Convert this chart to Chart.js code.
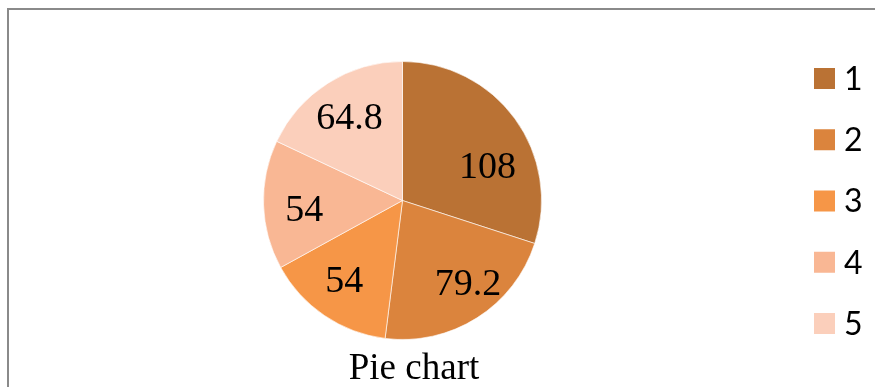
<!DOCTYPE html>
<html>
<head>
<meta charset="utf-8">
<script src="https://cdn.jsdelivr.net/npm/chart.js@4.4.1/dist/chart.umd.min.js"></script>
<style>
  html, body { margin: 0; padding: 0; background: #ffffff; }
  body { width: 875px; height: 387px; position: relative; overflow: hidden; }
  #frame {
    position: absolute; left: 7px; top: 8px; width: 900px; height: 420px;
    border-left: 2px solid #8a8a8a; border-top: 2px solid #8a8a8a;
    box-sizing: border-box;
  }
  #c { position: absolute; left: 0; top: 0; }
</style>
</head>
<body>
<div id="frame"></div>
<canvas id="c" width="875" height="387"></canvas>
<script>
// Slice names, values (degrees of the full circle) and fill colours
const categories = ['1', '2', '3', '4', '5'];
const values = [108, 79.2, 54, 54, 64.8];
const colors = ['#BA7234', '#DB843D', '#F69647', '#F9B794', '#FBCFBB'];
const chartTitle = 'Pie chart';

// Value labels drawn inside each slice; each label may be turned (degrees)
// away from the slice's mid-angle and set at its own fraction of the radius.
const sliceLabels = {
  id: 'sliceLabels',
  afterDatasetsDraw(chart, args, opts) {
    const ctx = chart.ctx;
    const meta = chart.getDatasetMeta(0);
    const place = opts.place || [];
    ctx.save();
    ctx.font = '38px "Liberation Serif", "Times New Roman", serif';
    ctx.fillStyle = '#000000';
    ctx.textAlign = 'center';
    ctx.textBaseline = 'middle';
    meta.data.forEach((arc, i) => {
      const p = arc.getProps(['x', 'y', 'startAngle', 'endAngle', 'outerRadius'], true);
      const pl = place[i] || { turn: 0, r: 0.72 };
      const mid = (p.startAngle + p.endAngle) / 2 + pl.turn * Math.PI / 180;
      const r = p.outerRadius * pl.r;
      ctx.fillText(String(chart.data.datasets[0].data[i]), p.x + Math.cos(mid) * r, p.y + Math.sin(mid) * r + 2);
    });
    ctx.restore();
  }
};

// Square-swatch legend down the right side, plus the caption under the pie
const sideLegend = {
  id: 'sideLegend',
  afterDraw(chart) {
    const ctx = chart.ctx;
    const ds = chart.data.datasets[0];
    ctx.save();
    ctx.font = '32px Lato, "Open Sans", sans-serif';
    ctx.textBaseline = 'middle';
    ctx.textAlign = 'left';
    chart.data.labels.forEach((lab, i) => {
      const cy = 78.5 + i * 61.25;
      ctx.fillStyle = ds.backgroundColor[i];
      ctx.fillRect(814, cy - 10.5, 21, 21);
      ctx.fillStyle = '#000000';
      ctx.fillText(lab, 844, cy + 1);
    });
    ctx.font = '37px "Liberation Serif", "Times New Roman", serif';
    ctx.textAlign = 'center';
    ctx.textBaseline = 'alphabetic';
    ctx.fillText(chartTitle, 414, 379);
    ctx.restore();
  }
};

new Chart(document.getElementById('c'), {
  type: 'pie',
  data: {
    labels: categories,
    datasets: [{
      data: values,
      backgroundColor: colors,
      borderColor: 'rgba(255,255,255,0.6)',
      borderWidth: 1
    }]
  },
  options: {
    responsive: false,
    animation: false,
    devicePixelRatio: 1,
    layout: { padding: { left: 264, right: 334, top: 62, bottom: 48 } },
    plugins: {
      legend: { display: false },
      tooltip: { enabled: false },
      title: { display: false },
      sliceLabels: {
        place: [
          { turn: 14, r: 0.66 },
          { turn: -6, r: 0.76 },
          { turn: 2, r: 0.71 },
          { turn: -3, r: 0.71 },
          { turn: 0, r: 0.71 }
        ]
      }
    },
    radius: 139
  },
  plugins: [sliceLabels, sideLegend]
});
</script>
</body>
</html>
